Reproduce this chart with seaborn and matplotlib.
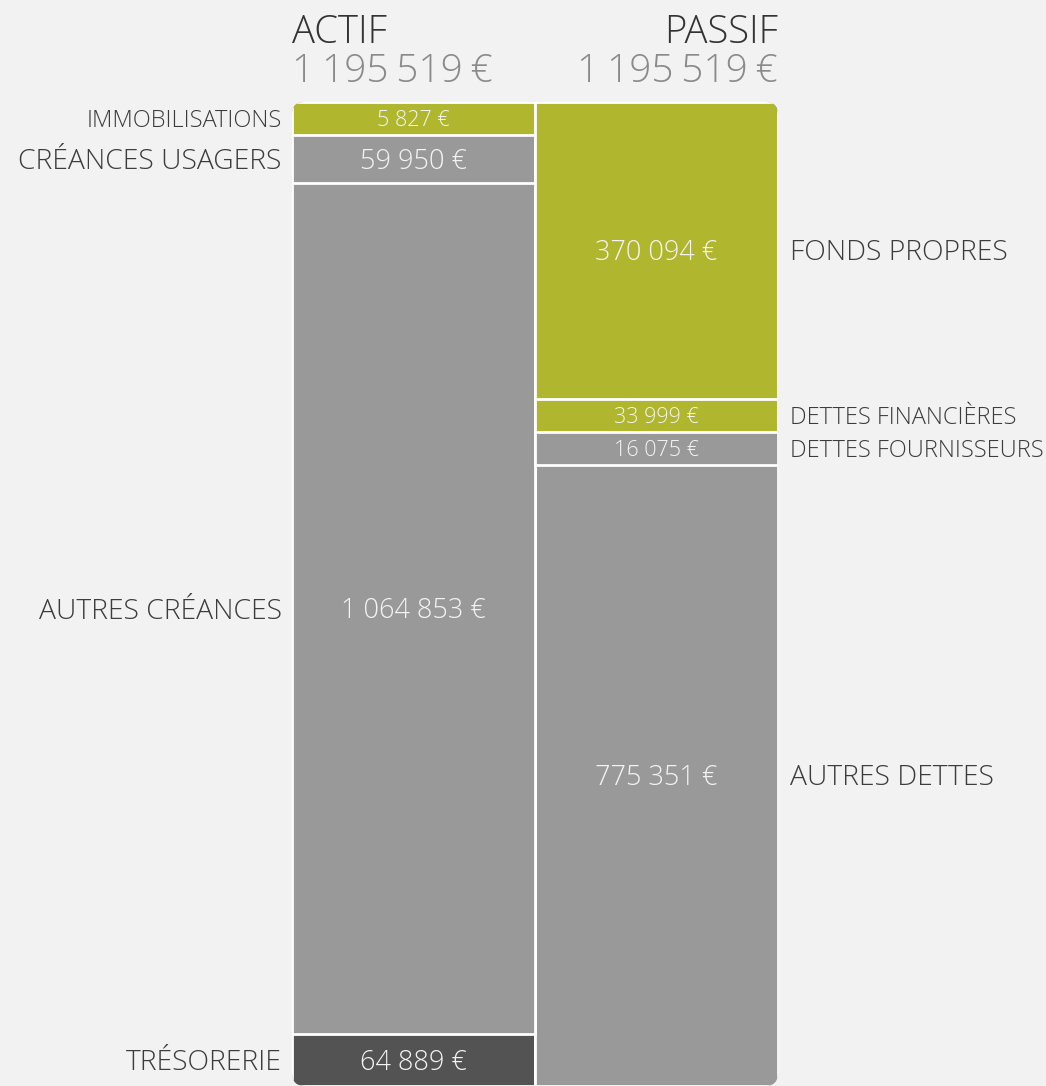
import numpy as np
import matplotlib
matplotlib.use("Agg")
import matplotlib.pyplot as plt
from matplotlib.patches import FancyBboxPatch
import seaborn as sns

# bilan : actif / passif
columns = ["ACTIF", "PASSIF"]
actif_labels = ["IMMOBILISATIONS", "CRÉANCES USAGERS", "AUTRES CRÉANCES", "TRÉSORERIE"]
actif_values = [5827, 59950, 1064853, 64889]
actif_colors = ["#b0b62d", "#999999", "#999999", "#535353"]
passif_labels = ["FONDS PROPRES", "DETTES FINANCIÈRES", "DETTES FOURNISSEURS", "AUTRES DETTES"]
passif_values = [370094, 33999, 16075, 775351]
passif_colors = ["#b0b62d", "#b0b62d", "#999999", "#999999"]


def fmt(v, sep=" "):
    return f"{v:,}".replace(",", sep) + sep + "€"


sns.set_theme(style="white")
plt.rcParams["font.family"] = ["Open Sans", "DejaVu Sans"]

W, H = 1046, 1086
fig = plt.figure(figsize=(W / 100, H / 100), dpi=100, facecolor="#f2f2f2")
ax = fig.add_axes([292 / W, 0, 486 / W, 984 / H])
ax.set_facecolor("#f2f2f2")

total = sum(actif_values)
min_h = total * 33 / 984  # minimum height for the tiny segments


def display_heights(values):
    vals = np.array(values, dtype=float)
    small = vals / vals.sum() < 0.04
    rest = vals.sum() - small.sum() * min_h
    h = np.where(small, min_h, vals / vals[~small].sum() * rest)
    return h, small


ha, sa = display_heights(actif_values)
hp, sp = display_heights(passif_values)
cum_a = np.cumsum(ha)
cum_p = np.cumsum(hp)

# stacked with overlapping cumulative bars, biggest first
for i in range(3, -1, -1):
    sns.barplot(x=columns, y=[cum_a[i], cum_p[i]], hue=columns,
                palette=[actif_colors[i], passif_colors[i]], legend=False,
                width=1.0, edgecolor="white", linewidth=2, ax=ax, saturation=1)

ax.set_xlim(-0.5, 1.5)
ax.set_ylim(total, 0)
ax.axis("off")

# rounded outer corners
px_x = 1 / 243.0
px_y = total / 984.0
clip = FancyBboxPatch((-0.5, 0), 2, total,
                      boxstyle=f"round,pad=0,rounding_size={13 * px_x}",
                      mutation_aspect=px_y / px_x, transform=ax.transData)
for p in ax.patches:
    p.set_clip_path(clip)

label_col = "#3c3c3c"
for col, labels, values, h, cum, small, side in [
        (0, actif_labels, actif_values, ha, cum_a, sa, "left"),
        (1, passif_labels, passif_values, hp, cum_p, sp, "right")]:
    for lab, v, hh, c, sm in zip(labels, values, h, cum, small):
        yc = c - hh / 2
        fs_v = 15.5 if sm else 19.5
        fs_l = 17 if sm else 20.3
        ax.annotate(fmt(v), xy=(col, yc), xytext=(0, -0.36 * fs_v), textcoords="offset points",
                    ha="center", va="baseline", color="#f4f4f4",
                    fontsize=fs_v, fontweight="light")
        if side == "left":
            ax.annotate(lab, xy=(-0.5, yc), xytext=(-7.5, -0.36 * fs_l), textcoords="offset points",
                        ha="right", va="baseline", color=label_col,
                        fontsize=fs_l, fontweight="light", annotation_clip=False)
        else:
            ax.annotate(lab, xy=(1.5, yc), xytext=(8.5, -0.36 * fs_l), textcoords="offset points",
                        ha="left", va="baseline", color=label_col,
                        fontsize=fs_l, fontweight="light", annotation_clip=False)

# headings
fig.text(292 / W, 1 - 43 / H, "ACTIF", ha="left", va="baseline", fontsize=27.5,
         color="#333333", fontweight="light")
fig.text(292 / W, 1 - 82 / H, fmt(sum(actif_values), "\u2009"), ha="left", va="baseline",
         fontsize=28, color="#8a8a8a", fontweight="light")
fig.text(778 / W, 1 - 43 / H, "PASSIF", ha="right", va="baseline", fontsize=27.5,
         color="#333333", fontweight="light")
fig.text(778 / W, 1 - 82 / H, fmt(sum(passif_values), "\u2009"), ha="right", va="baseline",
         fontsize=28, color="#8a8a8a", fontweight="light")

fig.savefig("out.png", dpi=100, facecolor=fig.get_facecolor())
